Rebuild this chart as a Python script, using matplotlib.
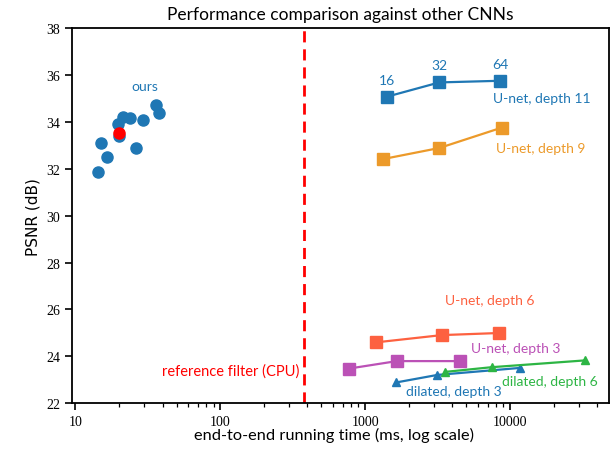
import matplotlib
matplotlib.use("Agg")
import matplotlib.pyplot as plt
from matplotlib.ticker import FuncFormatter
import numpy as np

plt.rcParams['font.family'] = ['Lato', 'DejaVu Sans']

# our method: running time (ms) / PSNR (dB)
ours_time = [14.4, 15.1, 16.6, 19.7, 21.2, 23.9, 20.1, 26.4, 29.4, 35.8, 37.9]
ours_psnr = [31.88, 33.09, 32.49, 33.90, 34.21, 34.17, 33.42, 32.89, 34.10, 34.71, 34.40]
ours_sel_time = [20.0]
ours_sel_psnr = [33.52]

unet11_time = [1413, 3250, 8530]
unet11_psnr = [35.08, 35.69, 35.76]
unet11_width = ["16", "32", "64"]

unet9_time = [1337, 3250, 8770]
unet9_psnr = [32.42, 32.89, 33.76]

unet6_time = [1190, 3380, 8440]
unet6_psnr = [24.59, 24.90, 24.99]

unet3_time = [773, 1655, 4540]
unet3_psnr = [23.47, 23.79, 23.79]

dil3_time = [1644, 3155, 11770]
dil3_psnr = [22.88, 23.20, 23.50]

dil6_time = [3580, 7480, 32900]
dil6_psnr = [23.33, 23.53, 23.82]

ref_time = 378

blue = '#1f77b4'
orange = '#ec9a2a'
tomato = '#fd6140'
magenta = '#bb51b6'
green = '#2db544'

fig = plt.figure(figsize=(6.13, 4.56), dpi=100)
ax = fig.add_axes([0.1175, 0.114, 0.8765, 0.8217])

ax.plot(ours_time, ours_psnr, 'o', color=blue, markersize=8, zorder=3)
ax.plot(ours_sel_time, ours_sel_psnr, 'o', color='red', markersize=8, zorder=4)

ax.plot(unet11_time, unet11_psnr, 's-', color=blue, markersize=8.5, lw=1.6)
ax.plot(unet9_time, unet9_psnr, 's-', color=orange, markersize=8.5, lw=1.6)
ax.plot(unet6_time, unet6_psnr, 's-', color=tomato, markersize=8.5, lw=1.6)
ax.plot(unet3_time, unet3_psnr, 's-', color=magenta, markersize=8.5, lw=1.6)
ax.plot(dil3_time, dil3_psnr, '^-', color=blue, markersize=6, lw=1.6)
ax.plot(dil6_time, dil6_psnr, '^-', color=green, markersize=6, lw=1.6)

ax.axvline(ref_time, color='red', lw=2, ls=(0, (4, 2.5)))

# annotations
for t, p, w in zip(unet11_time, unet11_psnr, unet11_width):
    ax.annotate(w, (t, p), xytext=(0, 8), textcoords='offset points',
                ha='center', va='bottom', color=blue, fontsize=10)
ax.text(30.4, 35.55, "ours", color=blue, ha='center', va='center', fontsize=10)
ax.text(7640, 35.02, "U-net, depth 11", color=blue, ha='left', va='center', fontsize=10)
ax.text(8000, 32.9, "U-net, depth 9", color=orange, ha='left', va='center', fontsize=10)
ax.text(7280, 26.4, "U-net, depth 6", color=tomato, ha='center', va='center', fontsize=10)
ax.text(5380, 24.35, "U-net, depth 3", color=magenta, ha='left', va='center', fontsize=10)
ax.text(4110, 22.53, "dilated, depth 3", color=blue, ha='center', va='center', fontsize=10)
ax.text(18900, 22.95, "dilated, depth 6", color=green, ha='center', va='center', fontsize=10)
ax.text(350, 23.4, "reference filter (CPU)", color='red', ha='right', va='center', fontsize=10.5)

ax.set_xscale('log')
ax.set_xlim(9.5, 48400)
ax.set_ylim(22, 38)
ax.set_yticks(np.arange(22, 39, 2))
ax.xaxis.set_major_formatter(FuncFormatter(lambda v, pos: "%d" % v))
for lab in ax.get_xticklabels() + ax.get_yticklabels():
    lab.set_fontfamily('Liberation Serif')
ax.tick_params(labelsize=10)
ax.tick_params(which='major', length=5, width=1.2)
ax.tick_params(which='minor', length=3, width=0.9)
for s in ax.spines.values():
    s.set_linewidth(1.3)

ax.set_title("Performance comparison against other CNNs", fontsize=12.5, pad=7)
ax.set_xlabel("end-to-end running time (ms, log scale)", fontsize=11.8)
ax.xaxis.set_label_coords(0.487, -0.065)
ax.set_ylabel("PSNR (dB)", fontsize=11, fontfamily='DejaVu Sans')

fig.savefig("out.png", dpi=100)
